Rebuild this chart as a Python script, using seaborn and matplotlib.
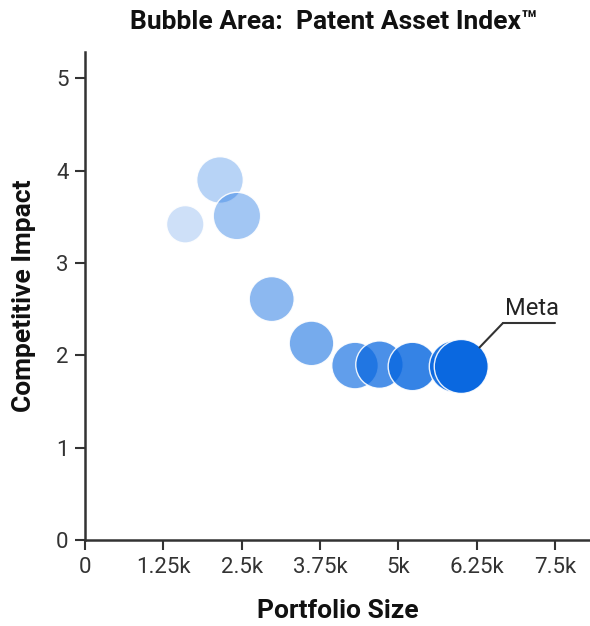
import matplotlib
matplotlib.use("Agg")
import matplotlib.pyplot as plt
import seaborn as sns
import pandas as pd
import numpy as np

# ---- data ----
portfolio_size = [1600, 2155, 2425, 2980, 3615, 4310, 4700, 5225, 5910, 6005]
competitive_impact = [3.42, 3.90, 3.51, 2.61, 2.13, 1.89, 1.90, 1.88, 1.88, 1.88]
patent_asset_index = [3500, 5430, 5620, 5060, 4970, 5430, 5620, 5860, 6760, 7290]
labels = ["", "", "", "", "", "", "", "", "", "Meta"]

df = pd.DataFrame({
    "Portfolio Size": portfolio_size,
    "Competitive Impact": competitive_impact,
    "PAI": patent_asset_index,
    "label": labels,
})

sns.set_theme(style="white")
plt.rcParams["font.family"] = ["Roboto", "DejaVu Sans"]

W, H = 590, 626
fig = plt.figure(figsize=(W / 100, H / 100), dpi=100)
ax = fig.add_axes([85 / W, 1 - 540 / H, (590 - 85) / W, (540 - 51.7) / H])

base = (10 / 255, 104 / 255, 224 / 255)
n = len(df)
alphas = np.linspace(0.2, 1.0, n)
rgba = [(base[0], base[1], base[2], a) for a in alphas]

max_r_pt = 27 * 0.72
smax = (2 * max_r_pt) ** 2
sns.scatterplot(
    data=df, x="Portfolio Size", y="Competitive Impact",
    size="PAI", sizes=(0, smax), size_norm=(0, max(patent_asset_index)),
    color=base, legend=False,
    edgecolor="white", linewidth=1.0, ax=ax, zorder=3,
)
coll = ax.collections[0]
coll.set_facecolors(rgba)
coll.set_edgecolors([(1, 1, 1, 0.9)] * n)

ax.set_xlim(0, 8060)
ax.set_ylim(0, 5.29)
xt = [0, 1250, 2500, 3750, 5000, 6250, 7500]
xtl = ["0", "1.25k", "2.5k", "3.75k", "5k", "6.25k", "7.5k"]
ax.set_xticks(xt)
ax.set_xticklabels(xtl)
ax.set_yticks([0, 1, 2, 3, 4, 5])
ax.tick_params(axis="both", direction="out", length=7, width=1.5, color="#333333",
               labelsize=16, labelcolor="#333333", pad=5, bottom=True, left=True)
for s in ["top", "right"]:
    ax.spines[s].set_visible(False)
for s in ["left", "bottom"]:
    ax.spines[s].set_color("#333333")
    ax.spines[s].set_linewidth(1.8)

ax.set_xlabel("Portfolio Size", fontsize=19, fontweight="bold", color="#111111", labelpad=15)
ax.set_ylabel("Competitive Impact", fontsize=19, fontweight="bold", color="#111111", labelpad=14)
fig.text(334 / W, 1 - 22 / H, "Bubble Area:  Patent Asset Index\u2122", ha="center", va="center",
         fontsize=19, fontweight="bold", color="#111111")

# Meta annotation
row = df[df["label"] == "Meta"].iloc[0]
ax.annotate("", xy=(row["Portfolio Size"], row["Competitive Impact"]),
            xytext=(6670, 2.35), textcoords="data",
            arrowprops=dict(arrowstyle="-", color="#333333", lw=1.5, shrinkA=0, shrinkB=19))
ax.plot([6670, 7500], [2.35, 2.35], color="#333333", lw=1.5, zorder=2)
ax.text(6700, 2.38, "Meta", fontsize=17, color="#222222", ha="left", va="bottom")

fig.savefig("out.png", dpi=100)
